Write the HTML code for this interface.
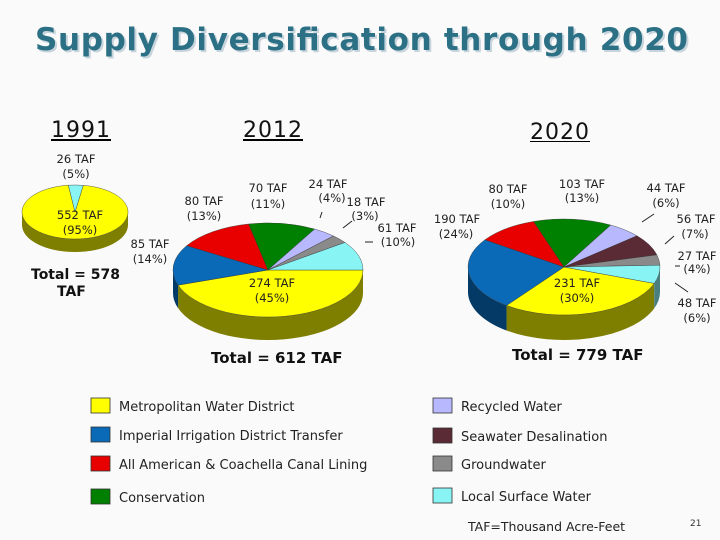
<!DOCTYPE html>
<html><head><meta charset="utf-8"><style>
body{margin:0;background:#fafafa}
svg{display:block}
text{font-family:"DejaVu Sans","Liberation Sans",sans-serif}
</style></head><body>
<svg id="s" width="720" height="540" viewBox="0 0 720 540">
<rect width="720" height="540" fill="#fafafa"/>
<g font-family="DejaVu Sans" font-weight="bold" font-size="31">
<text x="37" y="52" fill="#c8d4dc" textLength="653">Supply Diversification through 2020</text>
<text x="35" y="50" fill="#2c7085" textLength="653">Supply Diversification through 2020</text>
</g>
<g font-size="22" fill="#111">
<text x="51" y="137" textLength="59">1991</text>
<rect x="51" y="139" width="60" height="2" fill="#000"/>
<text x="243" y="137" textLength="59">2012</text>
<rect x="243" y="139" width="60" height="2" fill="#000"/>
<text x="530" y="139" textLength="59">2020</text>
<rect x="530" y="141" width="60" height="1" fill="#000"/>
</g>
<g id="pies"></g>
<g id="labels" font-size="11.5" fill="#222" text-anchor="middle">
<text x="76" y="163">26 TAF</text><text x="76" y="178">(5%)</text>
<text x="80" y="219">552 TAF</text><text x="80" y="234">(95%)</text>
<text x="204" y="205">80 TAF</text><text x="204" y="220">(13%)</text>
<text x="150" y="248">85 TAF</text><text x="150" y="263">(14%)</text>
<text x="268" y="192">70 TAF</text><text x="268" y="208">(11%)</text>
<text x="328" y="188">24 TAF</text><text x="332" y="202">(4%)</text>
<text x="366" y="206">18 TAF</text><text x="365" y="220">(3%)</text>
<text x="397" y="232">61 TAF</text><text x="398" y="246">(10%)</text>
<text x="272" y="287">274 TAF</text><text x="272" y="302">(45%)</text>
<text x="508" y="193">80 TAF</text><text x="508" y="208">(10%)</text>
<text x="582" y="188">103 TAF</text><text x="582" y="202">(13%)</text>
<text x="666" y="192">44 TAF</text><text x="666" y="207">(6%)</text>
<text x="696" y="223">56 TAF</text><text x="695" y="238">(7%)</text>
<text x="697" y="260">27 TAF</text><text x="697" y="273">(4%)</text>
<text x="697" y="307">48 TAF</text><text x="697" y="322">(6%)</text>
<text x="457" y="223">190 TAF</text><text x="456" y="238">(24%)</text>
<text x="577" y="287">231 TAF</text><text x="577" y="302">(30%)</text>
</g>
<g stroke="#222" stroke-width="1">
<line x1="320" y1="218" x2="322" y2="212"/><line x1="343" y1="228" x2="352" y2="221"/>
<line x1="365" y1="242" x2="373" y2="242"/><line x1="642" y1="222" x2="654" y2="214"/>
<line x1="665" y1="244" x2="674" y2="236"/><line x1="675" y1="266" x2="680" y2="266"/>
<line x1="675" y1="283" x2="688" y2="292"/>
</g>
<g font-weight="bold" fill="#111">
<text x="31" y="279" font-size="14">Total = 578</text>
<text x="57" y="296" font-size="14">TAF</text>
<text x="211" y="363" font-size="15">Total = 612 TAF</text>
<text x="512" y="360" font-size="15">Total = 779 TAF</text>
</g>
<g id="legend" font-size="13" fill="#222"></g>
<text x="468" y="531" font-size="12.5" fill="#222">TAF=Thousand Acre-Feet</text>
<text x="690" y="526" font-size="9" fill="#333">21</text>
</svg>
<script>
const NS='http://www.w3.org/2000/svg';
const categories=['Metropolitan Water District','Imperial Irrigation District Transfer','All American & Coachella Canal Lining','Conservation','Recycled Water','Seawater Desalination','Groundwater','Local Surface Water'];
const colors=['#ffff00','#0a6ab8','#e80000','#008000','#b8b8ff','#5a2a35','#8a8a8a','#88f4f4'];
const darks=['#7e7e00','#033a66','#800000','#004000','#6a6a99','#301518','#4a4a4a','#4a7f80'];
// values in TAF, order follows categories
const values1991=[552,0,0,0,0,0,0,26];
const values2012=[274,85,80,70,24,0,18,61];
const values2020=[231,190,80,103,44,56,27,48];
const order1991=[0,7];
const order2012=[0,1,2,3,4,6,7];
const order2020=[0,1,2,3,4,5,6,7];
const g=document.getElementById('pies');
function P(cx,cy,rx,ry,a){const r=a*Math.PI/180;return [cx+rx*Math.cos(r),cy+ry*Math.sin(r)];}
function pie(name,vals,ord,cx,cy,rx,ry,d,start){
  const grp=document.createElementNS(NS,'g');
  
  
  g.appendChild(grp);
  const tot=ord.reduce((s,i)=>s+vals[i],0);
  let a=start;const segs=[];
  ord.forEach(i=>{const b=a+vals[i]/tot*360;segs.push([i,a,b]);a=b;});
  segs.forEach(([i,a1,a2])=>{
    for(const k of [-360,0,360]){
      const s=Math.max(a1,k),e=Math.min(a2,k+180);
      if(e<=s)continue;
      const p1=P(cx,cy,rx,ry,s),p2=P(cx,cy,rx,ry,e);
      const path=document.createElementNS(NS,'path');
      path.setAttribute('d',`M${p1[0]},${p1[1]} A${rx},${ry} 0 0 1 ${p2[0]},${p2[1]} L${p2[0]},${p2[1]+d} A${rx},${ry} 0 0 0 ${p1[0]},${p1[1]+d} Z`);
      path.setAttribute('fill',darks[i]);
      
      
      grp.appendChild(path);
    }
  });
  segs.forEach(([i,a1,a2])=>{
    const p1=P(cx,cy,rx,ry,a1),p2=P(cx,cy,rx,ry,a2);
    const path=document.createElementNS(NS,'path');
    path.setAttribute('d',`M${cx},${cy} L${p1[0]},${p1[1]} A${rx},${ry} 0 ${a2-a1>180?1:0} 1 ${p2[0]},${p2[1]} Z`);
    path.setAttribute('fill',colors[i]);
    path.setAttribute('stroke','#333');
    path.setAttribute('stroke-width','0.4');
    
    
    grp.appendChild(path);
  });
}
pie('pie-1991',values1991,order1991,75,212,53,27,13,-81);
pie('pie-2012',values2012,order2012,268,270,95,47,23,0);
pie('pie-2020',values2020,order2020,564,267,96,48,25,20);
const L=document.getElementById('legend');
const pos=[[91,398],[91,427],[91,456],[91,489],[433,398],[433,428],[433,456],[433,488]];
categories.forEach((c,i)=>{
  const r=document.createElementNS(NS,'rect');
  r.setAttribute('x',pos[i][0]);r.setAttribute('y',pos[i][1]);r.setAttribute('width',19);r.setAttribute('height',15);
  r.setAttribute('fill',colors[i]);r.setAttribute('stroke','#333');r.setAttribute('stroke-width','0.8');
  
  
  L.appendChild(r);
  const t=document.createElementNS(NS,'text');
  t.setAttribute('x',pos[i][0]+28);t.setAttribute('y',pos[i][1]+13);t.textContent=c;
  
  
  L.appendChild(t);
});
</script>
</body></html>
